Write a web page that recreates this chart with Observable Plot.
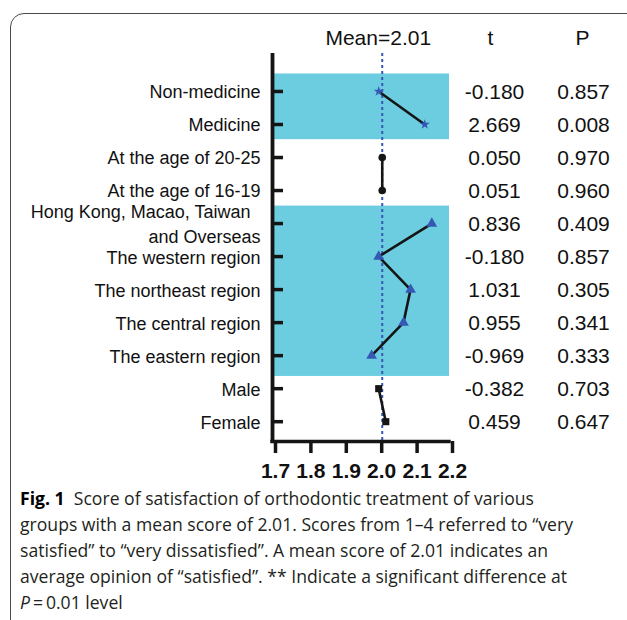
<!DOCTYPE html>
<html>
<head>
<meta charset="utf-8">
<script src="https://cdn.jsdelivr.net/npm/d3@7"></script>
<script src="https://cdn.jsdelivr.net/npm/@observablehq/plot@0.6"></script>
<style>
  html, body { margin: 0; padding: 0; background: #fff; }
  body { width: 627px; height: 620px; overflow: hidden; position: relative; }
  #frame { position: absolute; left: 10px; top: 13px; width: 660px; height: 660px;
           border: 1.5px solid #4a4a4a; border-radius: 14px; box-sizing: border-box; }
  #chart { position: absolute; left: 0; top: 0; }
  #caption { position: absolute; left: 20px; top: 485px; transform-origin: 0 0;
             font-family: "Open Sans", "Noto Sans", sans-serif; font-size: 18.5px;
             color: #231f20; white-space: nowrap; }
  #caption div { height: 26px; line-height: 26px; }
  #caption b { color: #000; }
</style>
</head>
<body>
<div id="frame"></div>
<div id="chart"></div>
<div id="caption">
  <div><span id="cap1"><b>Fig. 1</b>&nbsp; Score of satisfaction of orthodontic treatment of various</span></div>
  <div><span>groups with a mean score of 2.01. Scores from 1–4 referred to “very</span></div>
  <div><span>satisfied” to “very dissatisfied”. A mean score of 2.01 indicates an</span></div>
  <div><span>average opinion of “satisfied”. ** Indicate a significant difference at</span></div>
  <div><span><i>P</i>&#8201;=&#8201;0.01 level</span></div>
</div>
<script>
// ---- data ----
const categories = [
  "Non-medicine",
  "Medicine",
  "At the age of 20-25",
  "At the age of 16-19",
  "Hong Kong, Macao, Taiwan\u00a0\u00a0\nand Overseas",
  "The western region",
  "The northeast region",
  "The central region",
  "The eastern region",
  "Male",
  "Female"
];
const scores = [2.00, 2.13, 2.01, 2.01, 2.15, 2.00, 2.09, 2.07, 1.98, 2.00, 2.02];
const groups = ["major", "major", "age", "age", "region", "region", "region", "region", "region", "gender", "gender"];
const tValues = ["-0.180", "2.669", "0.050", "0.051", "0.836", "-0.180", "1.031", "0.955", "-0.969", "-0.382", "0.459"];
const pValues = ["0.857", "0.008", "0.970", "0.960", "0.409", "0.857", "0.305", "0.341", "0.333", "0.703", "0.647"];
const shadedGroups = ["major", "region"];
const xTicks = [1.7, 1.8, 1.9, 2.0, 2.1, 2.2];
const meanScore = 2.01;
const meanLabel = "Mean=2.01";
const colHeaders = ["t", "P"];

// ---- build ----
const rows = categories.map((name, i) => ({i, name, score: scores[i], group: groups[i], t: tValues[i], p: pValues[i]}));
const bands = shadedGroups.map(g => {
  const idx = rows.filter(r => r.group === g).map(r => r.i);
  return {group: g, first: d3.min(idx), last: d3.max(idx)};
});
const xDomain = [xTicks[0], xTicks[xTicks.length - 1]];
const yDomain = [-1.15, 10.6];
const blue = "#3558b5";
const ink = "#151515";
const font = "'Liberation Sans', Arial, Helvetica, sans-serif";

const markStyle = {
  major:  {symbol: "star",     r: 3.2, fill: blue},
  age:    {symbol: "circle",   r: 3.8, fill: ink},
  region: {symbol: "triangle", r: 4.0, fill: blue},
  gender: {symbol: "square",   r: 4.0, fill: ink}
};

const txt = {fontFamily: font, fill: "#111", lineAnchor: "middle"};

const plot = Plot.plot({
  width: 627,
  height: 490,
  marginLeft: 272,
  marginRight: 178,
  marginTop: 53,
  marginBottom: 49,
  style: {fontFamily: font, color: "#111", background: "transparent", overflow: "visible"},
  x: {domain: xDomain, axis: null},
  y: {domain: yDomain, reverse: true, axis: null},
  marks: [
    Plot.rect(bands, {
      x1: xDomain[0], x2: xDomain[1],
      y1: d => d.first - 0.53,
      y2: d => d.last + (d.group === "region" ? 0.63 : 0.46),
      fill: "#6ccde0"
    }),
    Plot.ruleX([meanScore], {stroke: blue, strokeWidth: 2, strokeDasharray: "3,3"}),
    Plot.line(rows, {x: "score", y: "i", z: "group", stroke: ink, strokeWidth: 2.6}),
    ...Object.entries(markStyle).map(([g, s]) =>
      Plot.dot(rows.filter(r => r.group === g), {x: "score", y: "i", symbol: s.symbol, r: s.r, fill: s.fill, stroke: "none"})
    ),
    // y axis line & inward ticks
    Plot.tickY(rows, {y: "i", insetRight: 166, stroke: ink, strokeWidth: 3.5}),
    Plot.ruleX([xDomain[0]], {stroke: ink, strokeWidth: 3.8}),
    Plot.ruleY([yDomain[1]], {stroke: ink, strokeWidth: 3.5, strokeLinecap: "square"}),
    Plot.axisX({
      ticks: xTicks, tickSize: 12, strokeWidth: 3.5, stroke: ink, label: null,
      tickFormat: d3.format(".1f"), tickPadding: 10,
      fontSize: 21, fontWeight: "bold", fontFamily: font, fill: "#111", dx: 3
    }),
    // category labels
    Plot.text(rows, {y: "i", text: "name", frameAnchor: "left", textAnchor: "end", dx: -12, dy: -1, fontSize: 18, lineHeight: 1.38, ...txt}),
    // t and P columns
    Plot.text(rows, {y: "i", text: "t", frameAnchor: "right", textAnchor: "middle", dx: 45, dy: 0.5, fontSize: 21, ...txt}),
    Plot.text(rows, {y: "i", text: "p", frameAnchor: "right", textAnchor: "middle", dx: 134, dy: 0.5, fontSize: 21, ...txt}),
    // headers
    Plot.text([meanLabel], {x: () => meanScore, text: d => d, frameAnchor: "top", textAnchor: "middle", dx: -4, dy: -15, fontSize: 21, ...txt}),
    Plot.text([colHeaders[0]], {text: d => d, frameAnchor: "top-right", textAnchor: "middle", dx: 41, dy: -15, fontSize: 21, ...txt}),
    Plot.text([colHeaders[1]], {text: d => d, frameAnchor: "top-right", textAnchor: "middle", dx: 133, dy: -15, fontSize: 21, ...txt})
  ]
});
document.getElementById("chart").appendChild(plot);

// fit caption width to the reference column width
const cap = document.getElementById("caption");
const w1 = document.getElementById("cap1").getBoundingClientRect().width;
const k = 514 / w1;
cap.style.transform = `scaleX(${k})`;
</script>
</body>
</html>
